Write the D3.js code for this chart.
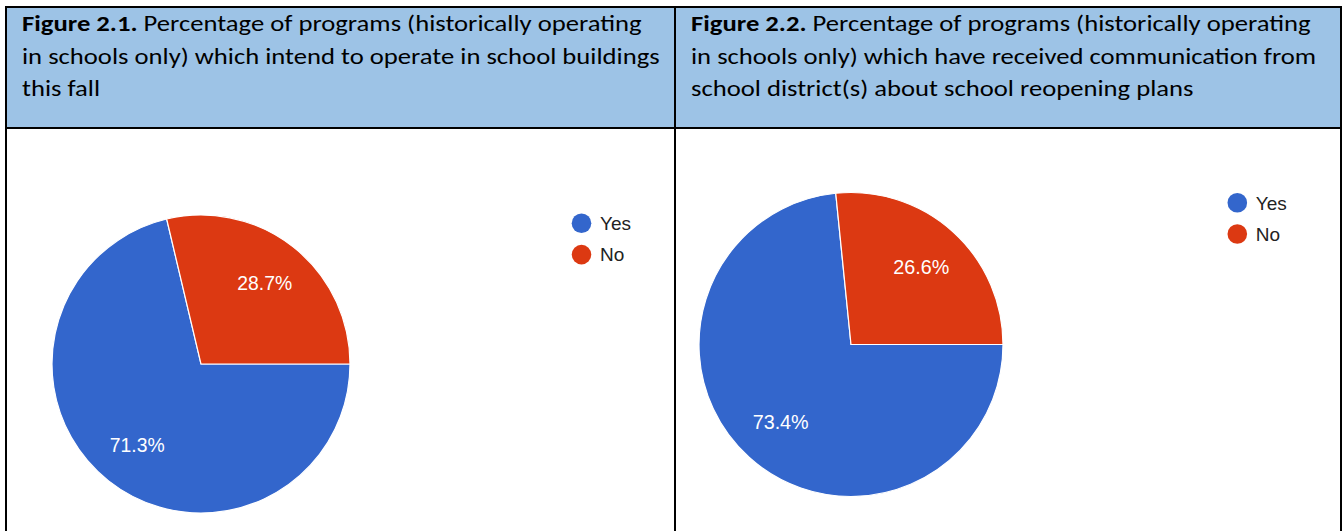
<!DOCTYPE html>
<html>
<head>
<meta charset="utf-8">
<script src="https://cdn.jsdelivr.net/npm/d3@7"></script>
<style>
  html, body { margin: 0; padding: 0; background: #fff; }
  svg { display: block; }
</style>
</head>
<body>
<svg id="chart" width="1342" height="531"></svg>
<script>
// Answer categories shared by both pies
const categories = ["Yes", "No"];

// Figure 2.1: intend to operate in school buildings this fall (%)
const fig1Values = [71.3, 28.7];
// Figure 2.2: received communication about reopening plans (%)
const fig2Values = [73.4, 26.6];

// Caption lines for each panel (first item of line one is bold)
const fig1Caption = [
  ["Figure 2.1.", " Percentage of programs (historically operating"],
  ["", "in schools only) which intend to operate in school buildings"],
  ["", "this fall"]
];
const fig2Caption = [
  ["Figure 2.2.", " Percentage of programs (historically operating"],
  ["", "in schools only) which have received communication from"],
  ["", "school district(s) about school reopening plans"]
];

const colors = d3.scaleOrdinal().domain(categories).range(["#3366cc", "#dc3912"]);

const svg = d3.select("#chart");
const W = 1342, H = 531;

// layout of the two-column table
const frame = { left: 6, top: 7, right: 1341, divider: 675, headerBottom: 128 };

// header background
svg.append("rect")
  .attr("x", frame.left).attr("y", frame.top)
  .attr("width", frame.right - frame.left).attr("height", frame.headerBottom - frame.top)
  .attr("fill", "#9dc3e6");

// panels
const panels = [
  { values: fig1Values, caption: fig1Caption, textX: 22, cx: 201, cy: 364, r: 149,
    legendX: 581.5, legendY: 223.3 },
  { values: fig2Values, caption: fig2Caption, textX: 691, cx: 851, cy: 344.5, r: 152,
    legendX: 1237.3, legendY: 202.7 }
];

const captionFont = "Carlito, Calibri, Lato, 'Open Sans', sans-serif";
const captionSize = 21.5;
const baselines = [31, 63.5, 96];

// caption lines are widened so the shared first line spans ~620px
const probe = svg.append("text")
  .attr("font-family", captionFont).attr("font-size", captionSize)
  .attr("x", -2000).attr("y", -100);
probe.append("tspan").attr("font-weight", "bold").text(fig1Caption[0][0]);
probe.append("tspan").text(fig1Caption[0][1]);
const natural = probe.node().getComputedTextLength();
probe.remove();
const stretch = Math.max(0.8, Math.min(1.5, 620 / natural));

const pie = d3.pie().sort(null)
  .startAngle(Math.PI / 2).endAngle(Math.PI / 2 + 2 * Math.PI);

panels.forEach(p => {
  // caption
  p.caption.forEach((line, i) => {
    const t = svg.append("text")
      .attr("transform", `translate(${p.textX},${baselines[i]}) scale(${stretch},1)`)
      .attr("font-family", captionFont)
      .attr("font-size", captionSize)
      .attr("fill", "#000");
    if (line[0]) t.append("tspan").attr("font-weight", "bold").text(line[0]);
    t.append("tspan").text(line[1]);
  });

  const data = categories.map((c, i) => ({ cat: c, value: p.values[i] }));
  const arcs = pie.value(d => d.value)(data);
  const arc = d3.arc().innerRadius(0).outerRadius(p.r);
  const labelArc = d3.arc().innerRadius(p.r * 0.69).outerRadius(p.r * 0.69);
  const fs = 19.5 * p.r / 150;

  const g = svg.append("g").attr("transform", `translate(${p.cx},${p.cy})`);
  g.selectAll("path.slice").data(arcs).join("path")
    .attr("class", "slice")
    .attr("d", arc)
    .attr("fill", d => colors(d.data.cat))
    .attr("stroke", "#fff")
    .attr("stroke-width", 1.2);

  g.selectAll("text.pct").data(arcs).join("text")
    .attr("class", "pct")
    .attr("transform", d => `translate(${labelArc.centroid(d)})`)
    .attr("text-anchor", "middle")
    .attr("dy", "0.36em")
    .attr("font-family", "Arial, 'Liberation Sans', sans-serif")
    .attr("font-size", fs)
    .attr("fill", "#fff")
    .text(d => d.data.value.toFixed(1) + "%");

  // legend
  const lg = svg.append("g").attr("transform", `translate(${p.legendX},${p.legendY})`);
  const items = lg.selectAll("g").data(categories).join("g")
    .attr("transform", (d, i) => `translate(0,${i * 31.3})`);
  items.append("circle").attr("r", 9.8).attr("fill", d => colors(d));
  items.append("text")
    .attr("x", 18.5).attr("dy", "0.36em")
    .attr("font-family", "Arial, 'Liberation Sans', sans-serif")
    .attr("font-size", 19)
    .attr("fill", "#222")
    .text(d => d);
});

// table rules
const rule = (x1, y1, x2, y2) => svg.append("line")
  .attr("x1", x1).attr("y1", y1).attr("x2", x2).attr("y2", y2)
  .attr("stroke", "#000").attr("stroke-width", 2);
rule(frame.left - 1, frame.top, W, frame.top);
rule(frame.left, frame.top, frame.left, H);
rule(frame.divider, frame.top, frame.divider, H);
rule(frame.right, frame.top, frame.right, H);
rule(frame.left, frame.headerBottom, W, frame.headerBottom);
</script>
</body>
</html>
